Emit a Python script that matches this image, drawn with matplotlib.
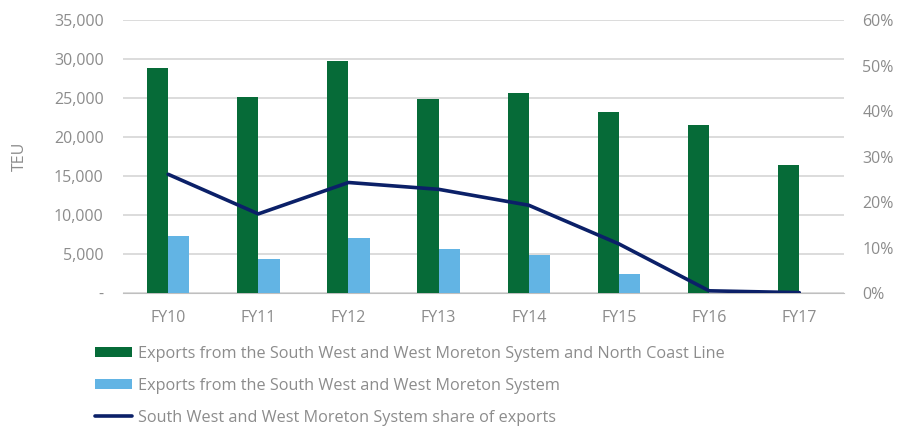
import matplotlib.pyplot as plt
import numpy as np
from matplotlib.ticker import FuncFormatter

plt.rcParams['font.family'] = ['Open Sans', 'DejaVu Sans']

years = ["FY10", "FY11", "FY12", "FY13", "FY14", "FY15", "FY16", "FY17"]
exports_all = [28800, 25100, 29800, 24900, 25600, 23200, 21500, 16400]
exports_swwm = [7300, 4400, 7050, 5650, 4900, 2450, 0, 0]
share_pct = [26.1, 17.4, 24.3, 22.8, 19.3, 10.8, 0.5, 0.1]

GREEN = "#066b38"
BLUE = "#62b4e4"
NAVY = "#0b2068"
GREY = "#8c8c8c"

x = np.arange(len(years))
w = 0.235

fig = plt.figure(figsize=(9.05, 4.26), dpi=100)
ax = fig.add_axes([0.136, 0.312, 0.797, 0.641])
ax2 = ax.twinx()

ax.bar(x - w / 2, exports_all, w, color=GREEN, zorder=3,
       label="Exports from the South West and West Moreton System and North Coast Line")
ax.bar(x + w / 2, exports_swwm, w, color=BLUE, zorder=3,
       label="Exports from the South West and West Moreton System")
ax2.plot(x, share_pct, color=NAVY, lw=2.6, solid_capstyle="round",
         label="South West and West Moreton System share of exports")

ax.set_xlim(-0.5, len(years) - 0.5)
ax.set_ylim(0, 35000)
ax.set_yticks(range(0, 35001, 5000))
ax.yaxis.set_major_formatter(FuncFormatter(lambda v, p: "-" if v == 0 else f"{int(v):,}"))
ax2.set_ylim(0, 60)
ax2.set_yticks(range(0, 61, 10))
ax2.yaxis.set_major_formatter(FuncFormatter(lambda v, p: f"{int(v)}%"))

ax.set_xticks(x)
ax.set_xticklabels(years)
ax.grid(axis="y", color="#d5d5d5", lw=1.2, zorder=0)
ax.set_axisbelow(True)

for a in (ax, ax2):
    for s in a.spines.values():
        s.set_visible(False)
    a.tick_params(length=0, colors=GREY, labelsize=11.5)
ax.spines["bottom"].set_visible(True)
ax.spines["bottom"].set_color("#bfbfbf")
ax.tick_params(axis="x", pad=12)
ax.tick_params(axis="y", pad=14)
ax2.tick_params(axis="y", pad=13)

ax.set_ylabel("TEU", color=GREY, fontsize=11.5, labelpad=19)

h1, l1 = ax.get_legend_handles_labels()
h2, l2 = ax2.get_legend_handles_labels()
fig.legend(h1 + h2, l1 + l2, loc="upper left", bbox_to_anchor=(0.105, 0.188),
           frameon=False, fontsize=11.7, labelcolor=GREY, labelspacing=0.98,
           handlelength=2.3, handleheight=0.55, handletextpad=0.35,
           borderaxespad=0, borderpad=0)

fig.savefig("out.png", dpi=100)
